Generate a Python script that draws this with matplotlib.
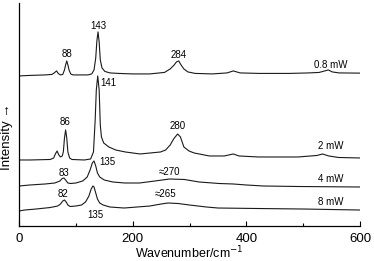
import numpy as np
import matplotlib.pyplot as plt

plt.rcParams['font.family'] = ['Liberation Sans', 'DejaVu Sans']

# Raman spectra (wavenumber in cm^-1, intensity in arb. units, stacked)
x_08 = [0, 19, 46, 58, 62, 66, 69, 73, 77, 80, 82, 84, 86, 88, 91, 95, 107, 121, 128, 132,
        135, 137, 139, 141, 143, 146, 151, 160, 175, 200, 230, 256, 266, 273, 277, 281,
        285, 290, 297, 310, 340, 366, 377, 389, 423, 475, 510, 528, 538, 544, 551, 563, 600]
y_08 = [150, 150.5, 151, 151.5, 153, 155, 152.5, 151, 151.5, 156, 161, 165, 161, 156, 152,
        151, 151, 151, 152, 156, 168, 185, 194, 184, 166, 158, 154.5, 153, 152.5, 152, 152,
        153.5, 157, 161, 164, 165, 161, 157, 154, 152.5, 152, 153, 155, 153, 152.5, 152.5,
        153, 153.5, 155, 156, 154, 153, 152.8]

x_2 = [0, 20, 55, 61, 64, 67, 70, 73, 76, 78, 80, 82, 84, 86, 89, 93, 115, 126, 131, 134,
       136, 138.5, 141, 143, 145, 149, 158, 170, 187, 213, 249, 258, 266, 272, 279, 284, 290,
       299, 308, 335, 361, 377, 387, 421, 491, 524, 534, 545, 562, 600]
y_2 = [66, 66, 66.5, 68, 72, 75, 71, 69, 70, 74, 88, 96, 88, 74, 68, 66.5, 66, 67, 74, 106,
       136, 150, 136, 101, 89, 83, 79, 76, 74, 72, 74, 76, 81, 87, 92, 89, 79, 75, 73, 70, 70,
       72, 70, 69, 69, 70.5, 72, 70, 68.5, 68]

x_4 = [0, 19, 46, 63, 72, 76, 79, 82, 86, 91, 100, 112, 120, 125, 129, 132, 135, 138, 142,
       150, 165, 186, 212, 239, 265, 291, 317, 352, 377, 400, 430, 491, 600]
y_4 = [40, 41, 42, 43, 45, 47.5, 48, 46, 43, 42.5, 43, 45, 49, 56, 63, 65, 60, 53, 49, 46,
       44, 43, 43, 45, 47, 46.5, 44, 42.5, 42, 41, 40, 39.5, 39]

x_8 = [0, 10, 30, 55, 68, 73, 77, 80, 83, 86, 90, 100, 110, 117, 123, 127, 130, 132, 135,
       138, 142, 148, 160, 185, 230, 250, 262, 280, 300, 330, 350, 421, 500, 600]
y_8 = [15, 16, 17, 18.5, 20, 22, 25, 26, 24, 21, 19.5, 20, 21, 24, 30, 37, 40, 39, 33, 27,
       23, 21, 19, 18, 20, 22, 23, 22.5, 21, 19, 18, 17.5, 17, 16]

power_labels = ['0.8 mW', '2 mW', '4 mW', '8 mW']
power_label_y = [161, 80, 47, 24]

# peak annotations: (text, x, y)
peak_notes = [('88', 84, 172), ('143', 139, 200), ('284', 281, 171),
              ('86', 81, 104), ('141', 158, 143), ('280', 279, 100),
              ('83', 79, 53), ('135', 156, 64), ('\u2248270', 265, 54),
              ('82', 77, 32), ('135', 135, 11), ('\u2248265', 258, 32)]

fig = plt.figure(figsize=(3.74, 2.61), dpi=100)
ax = fig.add_axes([0.0508, 0.134, 0.912, 0.855])

for xs, ys in [(x_08, y_08), (x_2, y_2), (x_4, y_4), (x_8, y_8)]:
    ax.plot(xs, ys, color='#1a1a1a', lw=0.8)

for lab, yl in zip(power_labels, power_label_y):
    ax.text(549, yl, lab, fontsize=7, ha='center', va='center')
for txt, xt, yt in peak_notes:
    ax.text(xt, yt, txt, fontsize=7, ha='center', va='center')

ax.set_xlim(0, 600)
ax.set_ylim(0, 223)
ax.set_xticks([0, 200, 400, 600])
ax.set_xticks([100, 300, 500], minor=True)
ax.set_yticks([])
ax.tick_params(axis='x', which='major', direction='in', length=3.5, width=0.8,
               labelsize=9.5, pad=5)
ax.tick_params(axis='x', which='minor', direction='in', length=2.5, width=0.8)
for side in ['top', 'right']:
    ax.spines[side].set_visible(False)
for side in ['left', 'bottom']:
    ax.spines[side].set_linewidth(0.9)

ax.set_xlabel('Wavenumber/cm$^{-1}$', fontsize=9, labelpad=0)
ax.set_ylabel('Intensity \u2192', fontsize=9.5)
ax.yaxis.set_label_coords(-0.018, 0.40)

fig.savefig('out.png', dpi=100)
